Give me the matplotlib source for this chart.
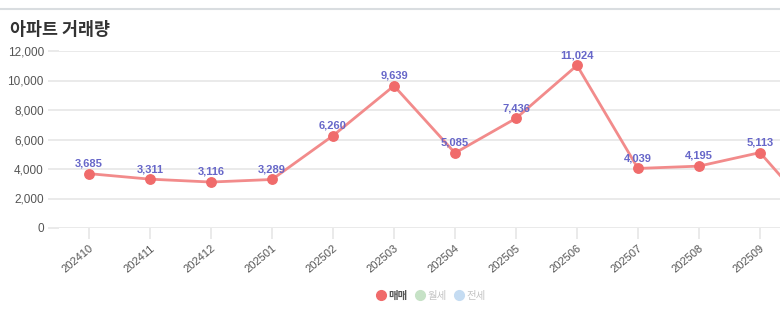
import matplotlib
matplotlib.use("Agg")
import matplotlib.pyplot as plt
from matplotlib.lines import Line2D

plt.rcParams['font.family'] = ['Liberation Sans', 'Noto Sans CJK KR', 'DejaVu Sans']

# 월별 아파트 매매 거래량 (마지막 달은 캔버스 밖)
months = ['202410', '202411', '202412', '202501', '202502', '202503', '202504',
          '202505', '202506', '202507', '202508', '202509', '202510']
sales = [3685, 3311, 3116, 3289, 6260, 9639, 5085, 7436, 11024, 4039, 4195, 5113, 420]
yticks = [0, 2000, 4000, 6000, 8000, 10000, 12000]
legend_names = ['매매', '월세', '전세']
legend_colors = ['#f06b6b', '#c6e2c6', '#c5dcf2']
n_visible = 12

W, H = 780, 323
fig = plt.figure(figsize=(W / 100, H / 100), dpi=100)

# 상단 구분선
fig.add_artist(Line2D([0, 1], [1 - 9 / H, 1 - 9 / H], color='#d9dde0', lw=1.5,
                      transform=fig.transFigure))
fig.text(10 / W, 1 - 30 / H, '아파트 거래량', fontsize=12.5, fontweight='bold',
         color='#333333', va='center', ha='left', family=['Noto Sans CJK KR'])

# 차트 영역 (오른쪽은 캔버스 밖으로 잘림)
left, right, top, bottom = 58.5, 851.5, 51, 228
ax = fig.add_axes([left / W, 1 - bottom / H, (right - left) / W, (bottom - top) / H])

x = list(range(len(months)))
ax.plot(x, sales, color='#f28b8b', lw=2.0, marker='o', markersize=6.8,
        markerfacecolor='#f06b6b', markeredgecolor='#f06b6b', clip_on=False, zorder=3)
for xi, v in zip(x[:n_visible], sales[:n_visible]):
    ax.annotate(f'{v:,}', (xi, v), xytext=(0, 7.3), textcoords='offset points',
                ha='center', va='center', fontsize=8, fontweight='bold', color='#6767c9')

ax.set_xlim(-0.5, len(months) - 0.5)
ax.set_ylim(0, 12000)
ax.set_yticks(yticks)
ax.set_yticklabels([f'{t:,}' for t in yticks])
ax.set_xticks(x)
ax.set_xticklabels(months[:n_visible] + [''] * (len(months) - n_visible),
                   rotation=40, ha='right', va='top', rotation_mode='anchor')

ax.yaxis.grid(True, color='#e6e6e6', lw=1.2)
ax.set_axisbelow(True)
for s in ax.spines.values():
    s.set_visible(False)
ax.tick_params(axis='y', length=8, width=1.2, color='#e6e6e6', pad=2.5,
               labelsize=8.5, labelcolor='#555555')
ax.tick_params(axis='x', length=8, width=1.2, color='#e6e6e6', pad=3,
               labelsize=8, labelcolor='#555555')

handles = [Line2D([], [], ls='', marker='o', markersize=7, color=c) for c in legend_colors]
leg = fig.legend(handles, legend_names, loc='center', bbox_to_anchor=(431 / W, 1 - 296 / H),
                 ncol=3, frameon=False, fontsize=7.5, handlelength=0.8,
                 handletextpad=0.3, columnspacing=0.8)
for i, t in enumerate(leg.get_texts()):
    t.set_family(['Noto Sans CJK KR'])
    if i == 0:
        t.set_color('#555555')
        t.set_fontweight('bold')
    else:
        t.set_color('#c4c4c4')

fig.savefig('out.png', dpi=100)
